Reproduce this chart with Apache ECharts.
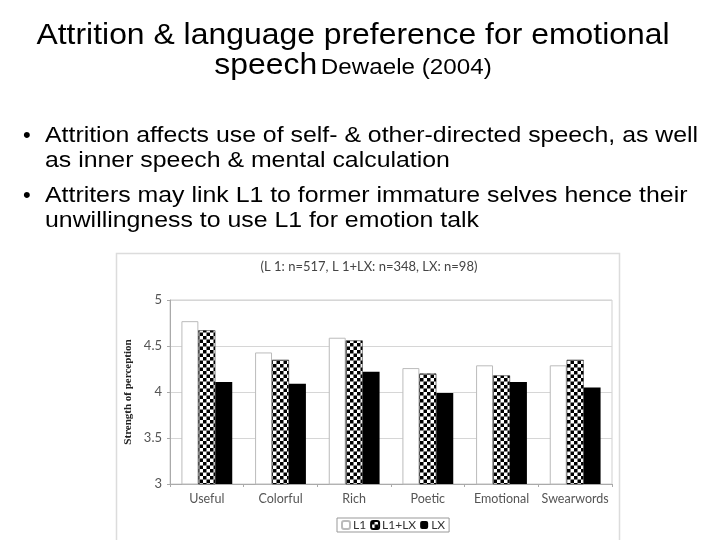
<!DOCTYPE html>
<html>
<head>
<meta charset="utf-8">
<script src="https://cdn.jsdelivr.net/npm/echarts@6/dist/echarts.min.js"></script>
<style>
  html, body { margin: 0; padding: 0; background: #fff; }
  #main { width: 720px; height: 540px; }
</style>
</head>
<body>
<div id="main"></div>
<script>
// data
var categories = ['Useful', 'Colorful', 'Rich', 'Poetic', 'Emotional', 'Swearwords'];
var seriesNames = ['L1', 'L1+LX', 'LX'];
var l1 = [4.77, 4.43, 4.59, 4.26, 4.29, 4.29];
var l1lx = [4.67, 4.35, 4.56, 4.20, 4.18, 4.35];
var lx = [4.11, 4.09, 4.22, 3.99, 4.11, 4.05];
var yTicks = [3, 3.5, 4, 4.5, 5];

// checkerboard fill for the L1+LX bars
function checker() {
    var c = document.createElement('canvas');
    c.width = 7; c.height = 7;
    var ctx = c.getContext('2d');
    ctx.fillStyle = '#fff';
    ctx.fillRect(0, 0, 7, 7);
    ctx.fillStyle = '#000';
    ctx.fillRect(0, 0, 3.5, 3.5);
    ctx.fillRect(3.5, 3.5, 3.5, 3.5);
    return { image: c, repeat: 'repeat' };
}

var myChart = echarts.init(document.getElementById('main'));
var arial = '"Liberation Sans", Arial, sans-serif';
var bulletFont = '22px ' + arial;
var axisFont = 'Lato, "Open Sans", sans-serif';
// slide text in the picture is a little stretched sideways
var bx = 1.13, tx = 1.10;

option = {
    animation: false,
    backgroundColor: '#fff',
    graphic: [
        // slide text
        { type: 'text', x: 353, y: 21, scaleX: tx, style: { text: 'Attrition & language preference for emotional', font: '29px ' + arial, fill: '#000', align: 'center' } },
        { type: 'text', x: 353, y: 50, scaleX: tx, style: {
            text: '{a|speech} {b|Dewaele (2004)}',
            align: 'center',
            rich: {
                a: { font: '29px ' + arial, fill: '#000', verticalAlign: 'bottom', lineHeight: 30 },
                b: { font: '22px ' + arial, fill: '#000', verticalAlign: 'bottom', lineHeight: 30, padding: [0, 0, 1, 0] }
            }
        } },
        { type: 'text', x: 23, y: 125, style: { text: '•', font: bulletFont, fill: '#000' } },
        { type: 'text', x: 45, y: 125, scaleX: bx, style: { text: 'Attrition affects use of self- & other-directed speech, as well', font: bulletFont, fill: '#000' } },
        { type: 'text', x: 45, y: 150, scaleX: bx, style: { text: 'as inner speech & mental calculation', font: bulletFont, fill: '#000' } },
        { type: 'text', x: 23, y: 185, style: { text: '•', font: bulletFont, fill: '#000' } },
        { type: 'text', x: 45, y: 185, scaleX: bx, style: { text: 'Attriters may link L1 to former immature selves hence their', font: bulletFont, fill: '#000' } },
        { type: 'text', x: 45, y: 210, scaleX: bx, style: { text: 'unwillingness to use L1 for emotion talk', font: bulletFont, fill: '#000' } },
        // embedded chart frame
        { type: 'rect', z: -10, shape: { x: 116.5, y: 253.5, width: 503, height: 300 }, style: { fill: '#fff', stroke: '#dcdcdc', lineWidth: 1.5 } },
        { type: 'text', x: 369, y: 260, style: { text: '(L 1: n=517, L 1+LX: n=348, LX: n=98)', font: '13px ' + axisFont, fill: '#444', align: 'center' } }
    ],
    legend: {
        data: seriesNames,
        left: 337,
        top: 518,
        itemWidth: 8,
        itemHeight: 8,
        itemGap: 4,
        padding: [1, 4],
        borderColor: '#999',
        borderWidth: 1,
        textStyle: { fontFamily: axisFont, fontSize: 12, color: '#333', padding: [0, 0, 0, -2] }
    },
    grid: {
        left: 170, right: 108, top: 300, bottom: 56,
        show: true, borderColor: '#cfcfcf', borderWidth: 1
    },
    xAxis: {
        type: 'category',
        data: categories,
        axisLine: { lineStyle: { color: '#aaa' } },
        axisTick: { show: true, length: 3, lineStyle: { color: '#aaa' } },
        axisLabel: { interval: 0, fontFamily: axisFont, fontSize: 12.5, color: '#555', margin: 8 }
    },
    yAxis: {
        type: 'value',
        min: yTicks[0],
        max: yTicks[yTicks.length - 1],
        interval: 0.5,
        name: 'Strength of perception',
        nameLocation: 'middle',
        nameRotate: 90,
        nameGap: 36,
        nameMoveOverlap: false,
        nameTextStyle: { fontFamily: '"Liberation Serif", "DejaVu Serif", serif', fontWeight: 'bold', fontSize: 11, color: '#222' },
        axisLine: { show: true, lineStyle: { color: '#aaa' } },
        axisTick: { show: true, length: 3, lineStyle: { color: '#aaa' } },
        axisLabel: { fontFamily: axisFont, fontSize: 13, color: '#555', margin: 8 },
        splitLine: { lineStyle: { color: '#d6d6d6' } }
    },
    series: [
        { name: 'L1', type: 'bar', data: l1, barGap: '0%', barCategoryGap: '31%',
          itemStyle: { color: '#fff', borderColor: '#bbb', borderWidth: 1 } },
        { name: 'L1+LX', type: 'bar', data: l1lx,
          itemStyle: { color: checker(), borderColor: '#000', borderWidth: 0.5 } },
        { name: 'LX', type: 'bar', data: lx,
          itemStyle: { color: '#000' } }
    ]
};
myChart.setOption(option);
</script>
</body>
</html>
